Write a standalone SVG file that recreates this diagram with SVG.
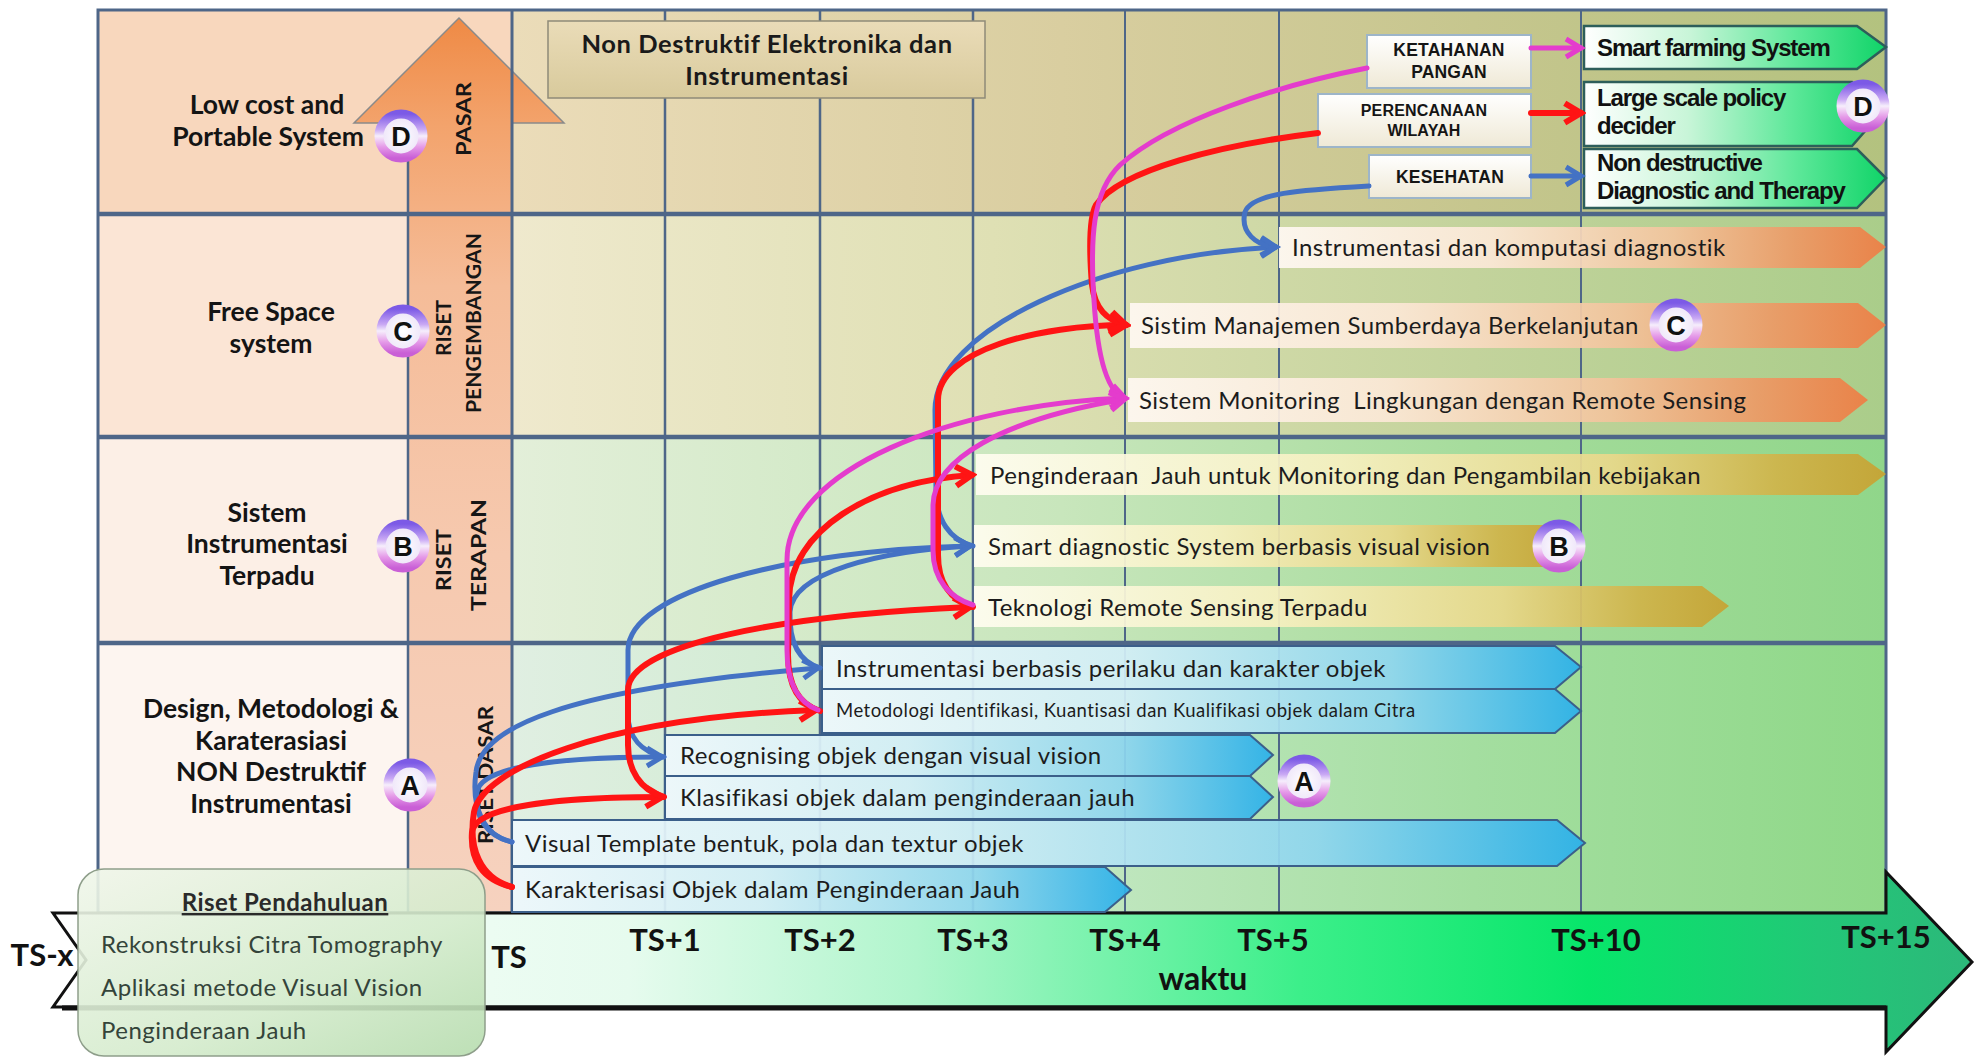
<svg xmlns="http://www.w3.org/2000/svg" width="1976" height="1060" viewBox="0 0 1976 1060">
<defs>
<style>
.lbl{font-family:Lato,'Liberation Sans',sans-serif;font-weight:700;font-size:26.5px;fill:#141414;text-anchor:middle}
.bar{font-family:Lato,'Liberation Sans',sans-serif;font-size:24px;letter-spacing:0.45px;fill:#1c1c1c}
.out{font-family:'Liberation Sans',Arial,sans-serif;font-weight:700;font-size:24px;letter-spacing:-1.1px;fill:#111}
.cap{font-family:'Liberation Sans',Arial,sans-serif;font-weight:700;font-size:17.5px;letter-spacing:0.2px;text-anchor:middle;fill:#151515}
.ts{font-family:Lato,'Liberation Sans',sans-serif;font-weight:700;font-size:31px;fill:#111;text-anchor:middle}
.vert{font-family:Lato,'Liberation Sans',sans-serif;font-weight:700;font-size:20px;fill:#161616;text-anchor:middle}
.rp{font-family:Lato,'Liberation Sans',sans-serif;font-size:24px;letter-spacing:0.5px;fill:#34443a}
.ttl{font-family:Lato,'Liberation Sans',sans-serif;font-weight:700;font-size:25.5px;letter-spacing:0.6px;fill:#1a1a1a;text-anchor:middle}
.cl{font-family:'Liberation Sans',Arial,sans-serif;font-weight:700;font-size:27px;fill:#111;text-anchor:middle}
.grid{stroke:#4e6688;fill:none}
.cB{fill:none;stroke:#4472c4;stroke-width:5;stroke-linecap:round}
.cR{fill:none;stroke:#ff1414;stroke-width:6;stroke-linecap:round}
.cM{fill:none;stroke:#e43ccd;stroke-width:5;stroke-linecap:round}
.ring{fill:url(#ringIn);stroke:url(#ringG);stroke-width:9}
.barA{fill:url(#gBlue);stroke:#3b5f8a;stroke-width:2;fill-opacity:0.93}
.barB{fill:url(#gGold);fill-opacity:0.93}
.barC{fill:url(#gOrange);fill-opacity:0.93}
.barD{fill:url(#gGreen);stroke:#2d5e5a;stroke-width:2.5}
.tag{fill:url(#gTag);stroke:#9db5c9;stroke-width:2}
</style>
<linearGradient id="gD" gradientUnits="userSpaceOnUse" x1="512" y1="0" x2="1886" y2="0"><stop offset="0" stop-color="#ebdcb9"/><stop offset="0.4" stop-color="#d9cea0"/><stop offset="0.7" stop-color="#c6c68e"/><stop offset="1" stop-color="#b3c27f"/></linearGradient>
<linearGradient id="gC" gradientUnits="userSpaceOnUse" x1="512" y1="0" x2="1886" y2="0"><stop offset="0" stop-color="#efe9cd"/><stop offset="0.35" stop-color="#dfe0b4"/><stop offset="0.7" stop-color="#c3d39c"/><stop offset="1" stop-color="#aacd8a"/></linearGradient>
<linearGradient id="gB" gradientUnits="userSpaceOnUse" x1="512" y1="0" x2="1886" y2="0"><stop offset="0" stop-color="#e3efd9"/><stop offset="0.4" stop-color="#c8e6bc"/><stop offset="0.7" stop-color="#a6dc9c"/><stop offset="1" stop-color="#90d68a"/></linearGradient>
<linearGradient id="gA" gradientUnits="userSpaceOnUse" x1="512" y1="0" x2="1886" y2="0"><stop offset="0" stop-color="#e0efe2"/><stop offset="0.35" stop-color="#c8e9c8"/><stop offset="0.7" stop-color="#a4dea0"/><stop offset="1" stop-color="#8fd888"/></linearGradient>
<linearGradient id="gShaft" gradientUnits="userSpaceOnUse" x1="0" y1="18" x2="0" y2="913"><stop offset="0" stop-color="#ef8a45"/><stop offset="0.12" stop-color="#f3a36c"/><stop offset="0.3" stop-color="#f5bc98"/><stop offset="0.6" stop-color="#f6c9af"/><stop offset="1" stop-color="#f6d2bf"/></linearGradient>
<linearGradient id="gOrange" x1="0" y1="0" x2="1" y2="0"><stop offset="0" stop-color="#fff8f2"/><stop offset="0.35" stop-color="#fbe8d6"/><stop offset="0.65" stop-color="#f2c49c"/><stop offset="0.85" stop-color="#ec9a66"/><stop offset="1" stop-color="#ee7d44"/></linearGradient>
<linearGradient id="gGold" x1="0" y1="0" x2="1" y2="0"><stop offset="0" stop-color="#fffdf0"/><stop offset="0.4" stop-color="#f6f0c0"/><stop offset="0.7" stop-color="#e8d88a"/><stop offset="0.88" stop-color="#d0b44a"/><stop offset="1" stop-color="#c7a232"/></linearGradient>
<linearGradient id="gBlue" x1="0" y1="0" x2="1" y2="0"><stop offset="0" stop-color="#eef8fc"/><stop offset="0.4" stop-color="#d2eef6"/><stop offset="0.75" stop-color="#8fd6ee"/><stop offset="1" stop-color="#2ab0ea"/></linearGradient>
<linearGradient id="gGreen" x1="0" y1="0" x2="1" y2="0"><stop offset="0" stop-color="#ffffff"/><stop offset="0.35" stop-color="#c8f5d8"/><stop offset="0.7" stop-color="#5ee89a"/><stop offset="1" stop-color="#10d468"/></linearGradient>
<linearGradient id="gTag" x1="0" y1="0" x2="0" y2="1"><stop offset="0" stop-color="#ffffff"/><stop offset="1" stop-color="#efe9d6"/></linearGradient>
<linearGradient id="gTitle" x1="0" y1="0" x2="0" y2="1"><stop offset="0" stop-color="#eadcb8"/><stop offset="1" stop-color="#d8ca9c"/></linearGradient>
<linearGradient id="gRiset" x1="0" y1="0" x2="1" y2="1"><stop offset="0" stop-color="#f0f6ea"/><stop offset="0.6" stop-color="#d4ebcc"/><stop offset="1" stop-color="#b6dcae"/></linearGradient>
<linearGradient id="gAxis" gradientUnits="userSpaceOnUse" x1="53" y1="0" x2="1972" y2="0"><stop offset="0" stop-color="#ffffff"/><stop offset="0.3" stop-color="#e6fbee"/><stop offset="0.45" stop-color="#b0f5cc"/><stop offset="0.65" stop-color="#3cef8a"/><stop offset="0.8" stop-color="#07e66a"/><stop offset="0.92" stop-color="#22c777"/><stop offset="1" stop-color="#2cb87a"/></linearGradient>
<linearGradient id="ringG" x1="0" y1="0" x2="0" y2="1"><stop offset="0" stop-color="#7c5ae6"/><stop offset="0.35" stop-color="#c9a8f4"/><stop offset="0.5" stop-color="#f6eefc"/><stop offset="0.75" stop-color="#e59ae8"/><stop offset="1" stop-color="#c95fd6"/></linearGradient>
<radialGradient id="ringIn"><stop offset="0" stop-color="#ffffff"/><stop offset="1" stop-color="#ece2f8"/></radialGradient>
<marker id="mkB" viewBox="0 0 24 24" markerUnits="userSpaceOnUse" markerWidth="24" markerHeight="24" refX="19" refY="12" orient="auto"><path d="M4,3 L19,12 L4,21" fill="none" stroke="#4472c4" stroke-width="5"/></marker>
<marker id="mkR" viewBox="0 0 24 24" markerUnits="userSpaceOnUse" markerWidth="26" markerHeight="26" refX="19" refY="12" orient="auto"><path d="M4,3 L19,12 L4,21" fill="none" stroke="#ff1414" stroke-width="5.5"/></marker>
<marker id="mkM" viewBox="0 0 24 24" markerUnits="userSpaceOnUse" markerWidth="24" markerHeight="24" refX="19" refY="12" orient="auto"><path d="M4,3 L19,12 L4,21" fill="none" stroke="#e43ccd" stroke-width="5"/></marker>
</defs>

<rect width="1976" height="1060" fill="#ffffff"/>

<g id="background">
<rect x="98" y="10" width="414" height="204" fill="#f8d7bd"/>
<rect x="98" y="214" width="414" height="223" fill="#fbe5d5"/>
<rect x="98" y="437" width="414" height="206" fill="#fcefe6"/>
<rect x="98" y="643" width="414" height="270" fill="#fdf5f0"/>
<rect x="512" y="10" width="1374" height="204" fill="url(#gD)"/>
<rect x="512" y="214" width="1374" height="223" fill="url(#gC)"/>
<rect x="512" y="437" width="1374" height="206" fill="url(#gB)"/>
<rect x="512" y="643" width="1374" height="270" fill="url(#gA)"/>
</g>

<g id="stage-arrow">
<polygon points="408,913 408,123 354,123 459,18 564,123 512,123 512,913" fill="url(#gShaft)" stroke="#8a8a8a" stroke-width="1.5"/>
</g>

<g id="grid">
<line class="grid" x1="408" y1="123" x2="408" y2="913" stroke-width="2.5"/>
<line class="grid" x1="512" y1="10" x2="512" y2="913" stroke-width="3"/>
<line class="grid" x1="665" y1="10" x2="665" y2="913" stroke-width="2.5"/>
<line class="grid" x1="820" y1="10" x2="820" y2="913" stroke-width="2.5"/>
<line class="grid" x1="973" y1="10" x2="973" y2="913" stroke-width="2.5"/>
<line class="grid" x1="1125" y1="10" x2="1125" y2="913" stroke-width="2"/>
<line class="grid" x1="1279" y1="10" x2="1279" y2="913" stroke-width="2"/>
<line class="grid" x1="1581" y1="10" x2="1581" y2="913" stroke-width="2"/>
<line class="grid" x1="98" y1="214" x2="1886" y2="214" stroke-width="4.5" stroke="#46607c"/>
<line class="grid" x1="98" y1="437" x2="1886" y2="437" stroke-width="4.5" stroke="#46607c"/>
<line class="grid" x1="98" y1="643" x2="1886" y2="643" stroke-width="4.5" stroke="#46607c"/>
<rect class="grid" x="98" y="10" width="1788" height="903" stroke-width="3" stroke="#5d7394"/>
</g>

<g id="stage-labels">
<text class="vert" transform="translate(464,119) rotate(-90)" dy="7" textLength="74" lengthAdjust="spacingAndGlyphs">PASAR</text>
<text class="vert" transform="translate(444,328) rotate(-90)" dy="7" textLength="56" lengthAdjust="spacingAndGlyphs">RISET</text>
<text class="vert" transform="translate(474,323) rotate(-90)" dy="7" textLength="180" lengthAdjust="spacingAndGlyphs">PENGEMBANGAN</text>
<text class="vert" transform="translate(444,560) rotate(-90)" dy="7" textLength="62" lengthAdjust="spacingAndGlyphs">RISET</text>
<text class="vert" transform="translate(479,555) rotate(-90)" dy="7" textLength="112" lengthAdjust="spacingAndGlyphs">TERAPAN</text>
<text class="vert" transform="translate(486,775) rotate(-90)" dy="7" textLength="138" lengthAdjust="spacingAndGlyphs">RISET DASAR</text>
</g>

<g id="row-labels">
<text class="lbl" x="267" y="114">Low cost and</text>
<text class="lbl" x="268" y="146">Portable System</text>
<text class="lbl" x="271" y="321">Free Space</text>
<text class="lbl" x="271" y="353">system</text>
<text class="lbl" x="267" y="522">Sistem</text>
<text class="lbl" x="267" y="553">Instrumentasi</text>
<text class="lbl" x="267" y="585">Terpadu</text>
<text class="lbl" x="271" y="718">Design, Metodologi &amp;</text>
<text class="lbl" x="271" y="750">Karaterasiasi</text>
<text class="lbl" x="271" y="781">NON Destruktif</text>
<text class="lbl" x="271" y="813">Instrumentasi</text>
</g>

<g id="title">
<rect x="548" y="21" width="437" height="77" fill="url(#gTitle)" stroke="#8f8a78" stroke-width="1.5"/>
<text class="ttl" x="767" y="53">Non Destruktif Elektronika dan</text>
<text class="ttl" x="767" y="85">Instrumentasi</text>
</g>

<g id="time-axis">
<polygon points="53,913 1886,913 1886,872 1972,962 1886,1052 1886,1007 53,1007 86,960" fill="url(#gAxis)" stroke="#111" stroke-width="3" stroke-linejoin="miter"/>
<line x1="62" y1="1008" x2="1886" y2="1008" stroke="#111" stroke-width="5"/>
<text class="ts" x="42" y="966">TS-x</text>
<text class="ts" x="509" y="968">TS</text>
<text class="ts" x="665" y="951">TS+1</text>
<text class="ts" x="820" y="951">TS+2</text>
<text class="ts" x="973" y="951">TS+3</text>
<text class="ts" x="1125" y="951">TS+4</text>
<text class="ts" x="1273" y="951">TS+5</text>
<text class="ts" x="1596" y="951">TS+10</text>
<text class="ts" x="1886" y="948">TS+15</text>
<text class="ts" x="1203" y="990" style="font-size:32px">waktu</text>
</g>

<g id="riset-pendahuluan">
<rect x="78" y="869" width="407" height="187" rx="26" fill="url(#gRiset)" fill-opacity="0.9" stroke="#8e9e8a" stroke-width="1.5"/>
<text class="rp" x="285" y="911" text-anchor="middle" style="font-weight:700;text-decoration:underline;fill:#2a2a2a">Riset Pendahuluan</text>
<text class="rp" x="101" y="953">Rekonstruksi Citra Tomography</text>
<text class="rp" x="101" y="996">Aplikasi metode Visual Vision</text>
<text class="rp" x="101" y="1039">Penginderaan Jauh</text>
</g>

<g id="row-d-outputs">
<g id="n-smart-farming"><polygon class="barD" points="1584,26 1857,26 1886,47 1857,69 1584,69"/><text class="out" x="1597" y="56">Smart farming System</text></g>
<g id="n-large-scale"><polygon class="barD" points="1584,82 1852,82 1880,114 1852,146 1584,146"/><text class="out" x="1597" y="106">Large scale policy</text><text class="out" x="1597" y="134">decider</text></g>
<g id="n-non-destructive"><polygon class="barD" points="1584,149 1857,149 1886,178 1857,208 1584,208"/><text class="out" x="1597" y="171">Non destructive</text><text class="out" x="1597" y="199">Diagnostic and Therapy</text></g>
<g id="n-ketahanan"><rect class="tag" x="1367" y="35" width="164" height="53"/><text class="cap" x="1449" y="56">KETAHANAN</text><text class="cap" x="1449" y="78">PANGAN</text></g>
<g id="n-perencanaan"><rect class="tag" x="1318" y="94" width="213" height="53"/><text class="cap" x="1424" y="116" style="font-size:16px">PERENCANAAN</text><text class="cap" x="1424" y="136" style="font-size:16px">WILAYAH</text></g>
<g id="n-kesehatan"><rect class="tag" x="1369" y="155" width="162" height="43"/><text class="cap" x="1450" y="183">KESEHATAN</text></g>
</g>

<g id="row-c-bars">
<g id="n-komputasi"><polygon class="barC" points="1279,227 1860,227 1886,247 1860,268 1279,268"/><text class="bar" x="1292" y="256">Instrumentasi dan komputasi diagnostik</text></g>
<g id="n-manajemen"><polygon class="barC" points="1130,303 1858,303 1886,325 1858,348 1130,348"/><text class="bar" x="1141" y="334">Sistim Manajemen Sumberdaya Berkelanjutan</text></g>
<g id="n-monitoring"><polygon class="barC" points="1128,378 1840,378 1868,400 1840,422 1128,422"/><text class="bar" x="1139" y="409" xml:space="preserve">Sistem Monitoring  Lingkungan dengan Remote Sensing</text></g>
</g>

<g id="row-b-bars">
<g id="n-penginderaan-kebijakan"><polygon class="barB" points="976,454 1858,454 1886,474 1858,495 976,495"/><text class="bar" x="990" y="484" xml:space="preserve">Penginderaan  Jauh untuk Monitoring dan Pengambilan kebijakan</text></g>
<g id="n-smart-diagnostic"><polygon class="barB" points="974,525 1548,525 1570,546 1548,567 974,567"/><text class="bar" x="988" y="555">Smart diagnostic System berbasis visual vision</text></g>
<g id="n-teknologi"><polygon class="barB" points="974,586 1702,586 1729,606 1702,627 974,627"/><text class="bar" x="988" y="616">Teknologi Remote Sensing Terpadu</text></g>
</g>

<g id="row-a-bars">
<g id="n-instr-perilaku"><polygon class="barA" points="822,646 1555,646 1581,667 1555,689 822,689"/><text class="bar" x="836" y="677">Instrumentasi berbasis perilaku dan karakter objek</text></g>
<g id="n-metodologi"><polygon class="barA" points="822,689 1555,689 1581,711 1555,733 822,733"/><text class="bar" x="836" y="717" style="font-size:18.5px;letter-spacing:0.5px">Metodologi Identifikasi, Kuantisasi dan Kualifikasi objek dalam Citra</text></g>
<g id="n-recognising"><polygon class="barA" points="665,735 1250,735 1273,755 1250,776 665,776"/><text class="bar" x="680" y="764">Recognising objek dengan visual vision</text></g>
<g id="n-klasifikasi"><polygon class="barA" points="665,776 1250,776 1273,797 1250,819 665,819"/><text class="bar" x="680" y="806">Klasifikasi objek dalam penginderaan jauh</text></g>
<g id="n-visual-template"><polygon class="barA" points="512,820 1557,820 1585,843 1557,866 512,866"/><text class="bar" x="525" y="852">Visual Template bentuk, pola dan textur objek</text></g>
<g id="n-karakterisasi"><polygon class="barA" points="512,867 1105,867 1131,890 1105,912 512,912"/><text class="bar" x="525" y="898">Karakterisasi Objek dalam Penginderaan Jauh</text></g>
</g>

<g id="connectors">
<path class="cB" d="M512,842 C486,836 474,816 477,792 C481,766 560,757 662,757" marker-end="url(#mkB)"/>
<path class="cB" d="M512,842 C484,836 471,808 476,772 C481,728 560,690 818,668" marker-end="url(#mkB)"/>
<path class="cB" d="M664,757 C642,752 628,738 628,714 L628,650 C628,592 790,550 970,546" marker-end="url(#mkB)"/>
<path class="cB" d="M820,668 C798,661 789,642 790,612 C792,572 880,551 970,546" marker-end="url(#mkB)"/>
<path class="cB" d="M973,546 C950,540 936,520 936,490 L935,410 C935,330 1100,255 1276,247" marker-end="url(#mkB)"/>
<path class="cB" d="M1369,186 C1300,190 1252,193 1245,212 C1240,232 1256,246 1276,247" marker-end="url(#mkB)"/>
<path class="cB" d="M1531,176 L1581,176" marker-end="url(#mkB)"/>
<path class="cR" d="M512,887 C482,880 470,860 472,832 C475,806 560,797 662,797" marker-end="url(#mkR)"/>
<path class="cR" d="M512,887 C480,878 468,848 474,812 C482,770 600,718 816,710" marker-end="url(#mkR)"/>
<path class="cR" d="M664,797 C640,790 628,770 628,745 L628,690 C628,645 780,615 970,607" marker-end="url(#mkR)"/>
<path class="cR" d="M820,711 C798,704 788,684 788,655 L789,600 C790,530 870,482 972,475" marker-end="url(#mkR)"/>
<path class="cR" d="M973,607 C950,600 938,582 938,555 L938,400 C938,350 1040,325 1126,325" marker-end="url(#mkR)"/>
<path class="cR" d="M1318,133 C1220,145 1120,170 1096,205 C1088,220 1090,260 1092,285 C1095,310 1108,321 1126,325" marker-end="url(#mkR)"/>
<path class="cR" d="M1531,113 L1581,113" marker-end="url(#mkR)"/>
<path class="cM" d="M1367,68 C1280,85 1170,120 1120,165 C1092,192 1090,240 1094,300 C1097,350 1105,392 1125,398" marker-end="url(#mkM)"/>
<path class="cM" d="M818,710 C797,702 787,682 787,650 L787,560 C787,470 950,405 1125,398" marker-end="url(#mkM)"/>
<path class="cM" d="M973,605 C950,598 933,580 933,550 L933,505 C934,460 1000,420 1125,399" marker-end="url(#mkM)"/>
<path class="cM" d="M1531,48 L1581,48" marker-end="url(#mkM)"/>
</g>

<g id="badges">
<g id="badge-d-left"><circle class="ring" cx="401" cy="136" r="22"/><text class="cl" x="401" y="146">D</text></g>
<g id="badge-c-left"><circle class="ring" cx="403" cy="331" r="22"/><text class="cl" x="403" y="341">C</text></g>
<g id="badge-b-left"><circle class="ring" cx="403" cy="546" r="22"/><text class="cl" x="403" y="556">B</text></g>
<g id="badge-a-left"><circle class="ring" cx="410" cy="785" r="22"/><text class="cl" x="410" y="795">A</text></g>
<g id="badge-d-right"><circle class="ring" cx="1863" cy="106" r="22"/><text class="cl" x="1863" y="116">D</text></g>
<g id="badge-c-right"><circle class="ring" cx="1676" cy="325" r="22"/><text class="cl" x="1676" y="335">C</text></g>
<g id="badge-b-right"><circle class="ring" cx="1559" cy="546" r="22"/><text class="cl" x="1559" y="556">B</text></g>
<g id="badge-a-right"><circle class="ring" cx="1304" cy="781" r="22"/><text class="cl" x="1304" y="791">A</text></g>
</g>
</svg>
